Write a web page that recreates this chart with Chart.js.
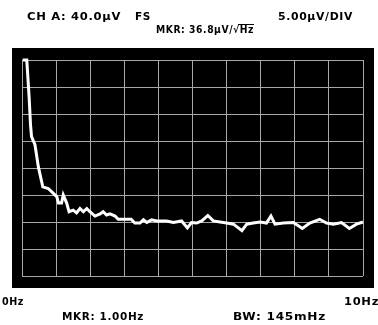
<!DOCTYPE html>
<html>
<head>
<meta charset="utf-8">
<script src="https://cdn.jsdelivr.net/npm/chart.js@4.4.1/dist/chart.umd.min.js"></script>
<style>
  html, body { margin: 0; padding: 0; background: #fff; }
  #wrap { position: relative; width: 378px; height: 325px; }
</style>
</head>
<body>
<div id="wrap"><canvas id="spectrum" width="378" height="325"></canvas></div>
<script>
// Frequency (Hz) and noise density (µV/√Hz)
const freqHz = [0.02, 0.14, 0.17, 0.21, 0.25, 0.28, 0.38, 0.48, 0.61, 0.77, 0.92, 1.02, 1.07, 1.16, 1.21, 1.31,
  1.38, 1.5, 1.6, 1.7, 1.8, 1.9, 1.99, 2.14, 2.29, 2.38, 2.48, 2.58, 2.73, 2.82, 3.2, 3.31, 3.46, 3.56,
  3.66, 3.8, 3.95, 4.24, 4.44, 4.68, 4.85, 4.97, 5.12, 5.27, 5.45, 5.61, 5.81, 6.0, 6.2, 6.45, 6.59,
  6.78, 6.98, 7.17, 7.3, 7.42, 7.66, 7.96, 8.22, 8.44, 8.73, 8.93, 9.13, 9.37, 9.6, 9.81, 10.0];
const noiseUv = [40, 40, 37, 33, 28, 25.8, 24.3, 20.2, 16.5, 16.2, 15.3, 14.7, 13.5, 13.5, 15.0, 13.5,
  11.9, 12.2, 11.7, 12.5, 11.9, 12.5, 11.9, 11.1, 11.5, 11.9, 11.3, 11.5, 11.1, 10.5, 10.5, 9.8, 9.8, 10.4,
  9.9, 10.4, 10.2, 10.2, 9.9, 10.2, 8.9, 9.9, 9.8, 10.2, 11.2, 10.2, 10.0, 9.8, 9.6, 8.4, 9.6,
  9.8, 10.0, 9.8, 11.1, 9.6, 9.8, 9.9, 8.8, 9.8, 10.5, 9.8, 9.6, 9.9, 8.8, 9.6, 10.0];

// Axis ranges: 0..10 Hz, 0..40 µV full scale at 5 µV/div
const xRange = [0, 10];
const yRange = [0, 40];
const yStep = 5;

// Screen annotations
const channelLabel = 'CH A: 40.0µV';
const fullScale = 'FS';
const headerRight = '5.00µV/DIV';
const markerAmp = 'MKR: 36.8µV/√Hz';
const startLabel = '0Hz';
const endLabel = '10Hz';
const markerFreq = 'MKR: 1.00Hz';
const bandwidth = 'BW: 145mHz';

// draw text stretched horizontally so it spans the given width
function fitText(ctx, text, x, y, width) {
    ctx.letterSpacing = '0.6px';
    const natural = ctx.measureText(text).width;
    ctx.save();
    ctx.translate(x, y);
    ctx.scale(width / natural, 1);
    ctx.fillText(text, 0, 0);
    ctx.restore();
}

const screenPlugin = {
    id: 'screen',
    beforeDraw(chart) {
        const ctx = chart.ctx;
        ctx.save();
        ctx.fillStyle = '#000';
        ctx.fillRect(12, 48, 362, 240);
        ctx.restore();
    },
    afterDraw(chart) {
        const ctx = chart.ctx;
        ctx.save();
        ctx.fillStyle = '#000';
        ctx.font = 'bold 10px "DejaVu Sans", sans-serif';
        ctx.textBaseline = 'alphabetic';
        ctx.textAlign = 'left';
        fitText(ctx, channelLabel, 27, 20, 94);
        fitText(ctx, fullScale, 135, 20, 16);
        fitText(ctx, headerRight, 278, 20, 75);
        fitText(ctx, markerAmp, 156, 33, 98);
        // overline of the root sign over "Hz"
        ctx.fillRect(238, 24, 16, 1);

        fitText(ctx, startLabel, 2, 305, 22);
        fitText(ctx, endLabel, 344, 305, 35);
        fitText(ctx, markerFreq, 62, 320, 82);
        fitText(ctx, bandwidth, 233, 320, 93);
        ctx.restore();
    }
};

new Chart(document.getElementById('spectrum'), {
    type: 'line',
    data: {
        datasets: [{
            data: freqHz.map((f, i) => ({ x: f, y: noiseUv[i] })),
            borderColor: '#fff',
            borderWidth: 3,
            pointRadius: 0,
            tension: 0,
            fill: false
        }]
    },
    options: {
        responsive: false,
        animation: false,
        clip: false,
        layout: { padding: { left: 22, right: 15, top: 60, bottom: 49 } },
        plugins: { legend: { display: false }, tooltip: { enabled: false } },
        scales: {
            x: {
                type: 'linear',
                min: xRange[0],
                max: xRange[1],
                ticks: { display: false, stepSize: 1 },
                grid: { color: '#a8a8a8', drawTicks: false, lineWidth: 1 },
                border: { display: false }
            },
            y: {
                min: yRange[0],
                max: yRange[1],
                ticks: { display: false, stepSize: yStep },
                grid: { color: '#a8a8a8', drawTicks: false, lineWidth: 1 },
                border: { display: false }
            }
        }
    },
    plugins: [screenPlugin]
});
</script>
</body>
</html>
